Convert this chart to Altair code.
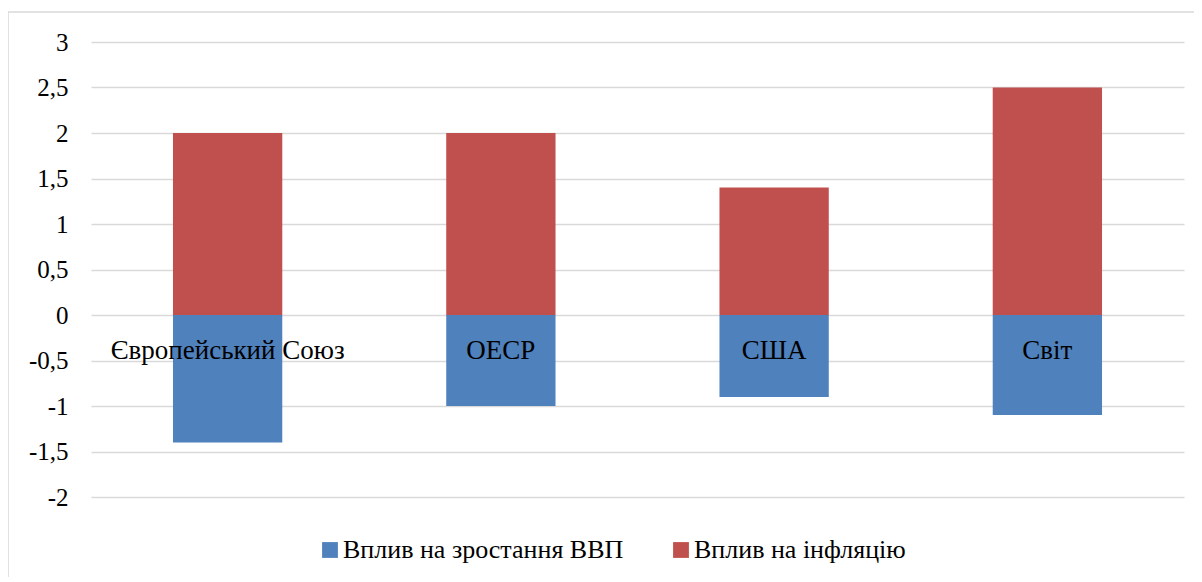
import altair as alt
import pandas as pd

categories = ["Європейський Союз", "ОЕСР", "США", "Світ"]
gdp_impact = [-1.4, -1.0, -0.9, -1.1]
infl_impact = [2.0, 2.0, 1.4, 2.5]
series_names = ["Вплив на зростання ВВП", "Вплив на інфляцію"]
colors = ["#4F81BD", "#C0504D"]
y_ticks = [-2, -1.5, -1, -0.5, 0, 0.5, 1, 1.5, 2, 2.5, 3]

rows = []
for c, g, i in zip(categories, gdp_impact, infl_impact):
    rows.append({"cat": c, "series": series_names[0], "value": g, "order": 0})
    rows.append({"cat": c, "series": series_names[1], "value": i, "order": 1})
df = pd.DataFrame(rows)
labels_df = pd.DataFrame({"cat": categories, "zero": [0] * len(categories)})

FONT = "Liberation Serif"

x_scale = alt.Scale(paddingInner=0.6, paddingOuter=0.3)

bars = alt.Chart(df).mark_bar().encode(
    x=alt.X("cat:N", sort=categories, title=None, scale=x_scale, axis=None),
    y=alt.Y("value:Q", stack="zero", title=None,
            scale=alt.Scale(domain=[-2, 3], nice=False),
            axis=alt.Axis(values=y_ticks, grid=True, gridColor="#d9d9d9", gridWidth=1.5,
                          domain=False, ticks=False, labelPadding=23,
                          labelFont=FONT, labelFontSize=25, labelColor="#000000",
                          labelExpr="replace(toString(datum.value), '.', ',')")),
    color=alt.Color("series:N", sort=series_names,
                    scale=alt.Scale(domain=series_names, range=colors),
                    legend=alt.Legend(title=None, orient="none", legendX=226, legendY=495,
                                      direction="horizontal", symbolType="square",
                                      symbolSize=250, symbolStrokeWidth=0,
                                      labelFont=FONT, labelFontSize=26, labelColor="#000000",
                                      labelOffset=0, columnPadding=44, labelLimit=500)),
    order=alt.Order("order:Q"),
)

texts = alt.Chart(labels_df).mark_text(font=FONT, fontSize=27, color="#000000",
                                       baseline="alphabetic", dy=44).encode(
    x=alt.X("cat:N", sort=categories, title=None, scale=x_scale, axis=None),
    y=alt.Y("zero:Q"),
    text=alt.Text("cat:N"),
)

border_data = alt.Data(values=[{"a": 1}])
top_border = alt.Chart(border_data).mark_rule(color="#d9d9d9", strokeWidth=1.5).encode(
    x=alt.value(-83), x2=alt.value(1120), y=alt.value(-30))
left_border = alt.Chart(border_data).mark_rule(color="#d9d9d9", strokeWidth=1.5).encode(
    x=alt.value(-83), y=alt.value(-30), y2=alt.value(545))

chart = alt.layer(bars, texts, top_border, left_border).properties(
    width=1093, height=455,
    autosize=alt.AutoSizeParams(type="none"),
    padding={"left": 83, "top": 34, "right": 10, "bottom": 80},
).configure(
    background="#ffffff", font=FONT,
).configure_view(
    stroke=None
).configure_legend(
    padding=0
)

chart.save("out.html", embed_options={"renderer": "svg", "actions": False})
